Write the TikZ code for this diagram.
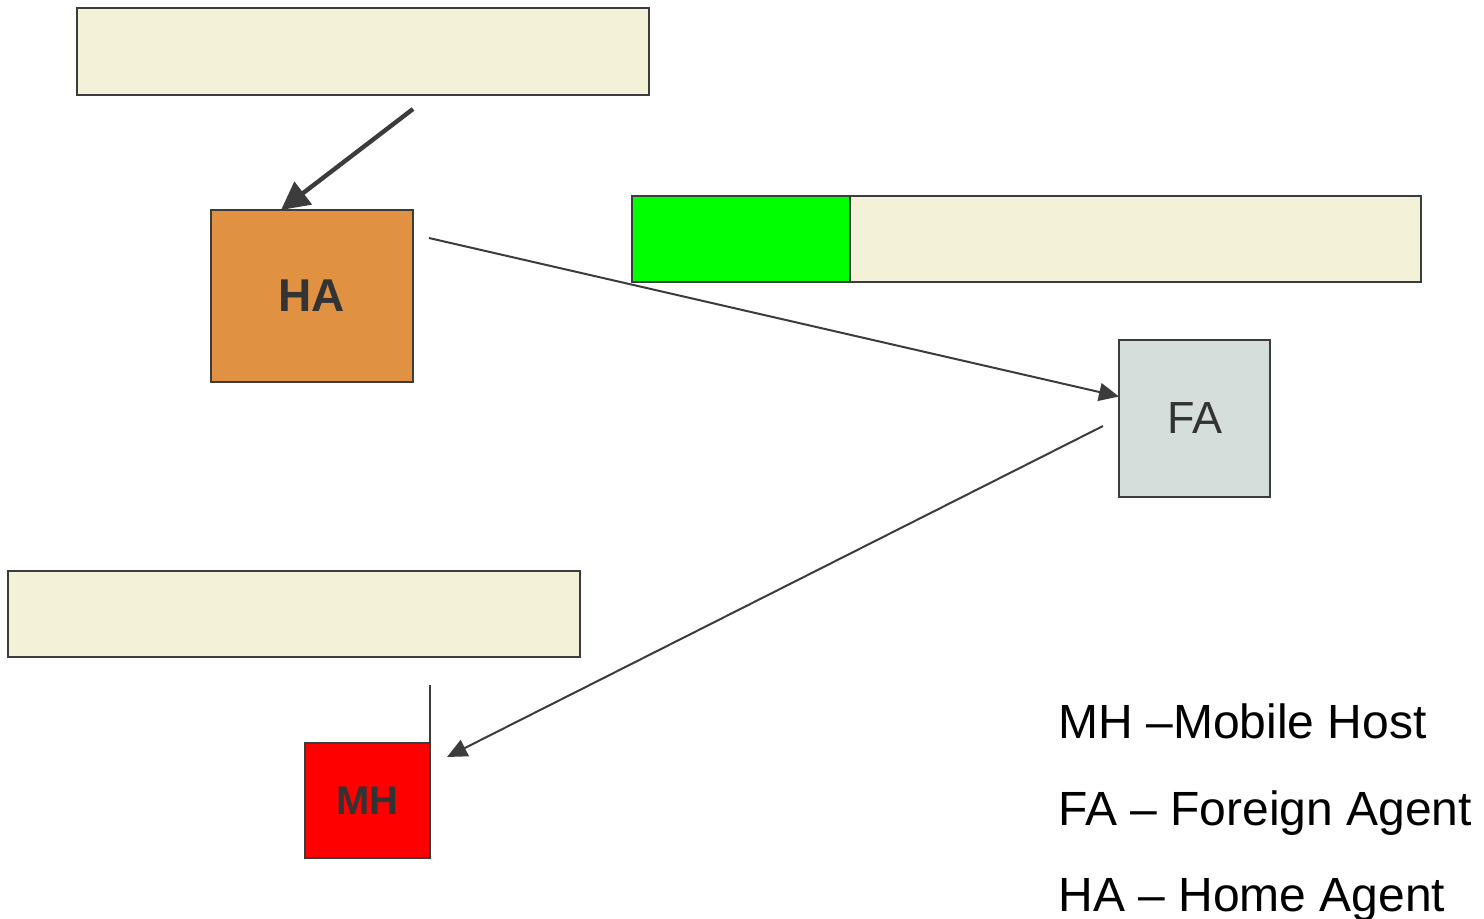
\documentclass[tikz,border=0pt]{standalone}
\usepackage{fontspec}
\setmainfont{Liberation Sans}
\usetikzlibrary{arrows.meta,positioning,calc}
\definecolor{boxline}{HTML}{3C3C3C}
\definecolor{cream}{HTML}{F4F1D9}
\definecolor{haorange}{HTML}{E09142}
\definecolor{fagray}{HTML}{D6DEDC}
\definecolor{dtext}{HTML}{333333}
\tikzset{
  box/.style={draw=boxline,line width=1pt,inner sep=0pt,outer sep=0pt,anchor=north west},
  link/.style={draw=boxline,line width=1pt,-{Triangle[length=10pt,width=9pt]}},
  legend/.style={anchor=base west,inner sep=0pt,font=\fontsize{24}{28}\selectfont}
}
\begin{document}
\begin{tikzpicture}[x=0.5pt,y=-0.5pt]
\useasboundingbox (0,0) rectangle (1484,918);
% message boxes
\node[box,fill=cream,minimum width=286pt,minimum height=43.5pt] (toptab) at (77,8) {};
\node[box,fill=green,minimum width=109pt,minimum height=43pt] (hdr) at (632,196) {};
\node[box,fill=cream,minimum width=285.5pt,minimum height=43pt] (midtab) at (850,196) {};
\node[box,fill=cream,minimum width=286pt,minimum height=43pt] (bottab) at (8,571) {};
% agents and host
\node[box,fill=haorange,minimum width=101pt,minimum height=86pt,text=dtext,
  font=\fontsize{23}{26}\selectfont\bfseries] (ha) at (211,210) {};
\node[text=dtext,font=\fontsize{23}{26}\selectfont\bfseries] at (ha.center) {HA};
\node[box,fill=fagray,minimum width=75.5pt,minimum height=78.5pt] (fa) at (1119,340) {};
\node[text=dtext,font=\fontsize{22.5}{26}\selectfont] at (fa.center) {FA};
\node[box,fill=red,minimum width=62.5pt,minimum height=57.5pt] (mh) at (305,743) {};
\node[text=dtext,font=\fontsize{20}{24}\selectfont\bfseries] at (mh.center) {MH};
% free ends
\coordinate (s1) at (413,109);
\coordinate (s2) at (429,238);
\coordinate (s3) at (1103,426);
\coordinate (e3) at (447,757);
\coordinate (mast) at (430,685);
% connectors
\draw[draw=boxline,line width=2.2pt,-{Triangle[length=14pt,width=14pt]}] (s1) -- ($(ha.north west)+(70,0)$);
\draw[link] (s2) -- ($(fa.north west)!0.36!(fa.south west)$);
\draw[link] (s3) -- (e3);
\draw[draw=boxline,line width=1pt] (mast) -- (mh.north east);
% legend
\node[legend] (l1) at (1058,738) {MH –Mobile Host};
\node[legend] (l2) at (1058,825) {FA – Foreign Agent};
\node[legend] (l3) at (1058,911) {HA – Home Agent};
\end{tikzpicture}
\end{document}
